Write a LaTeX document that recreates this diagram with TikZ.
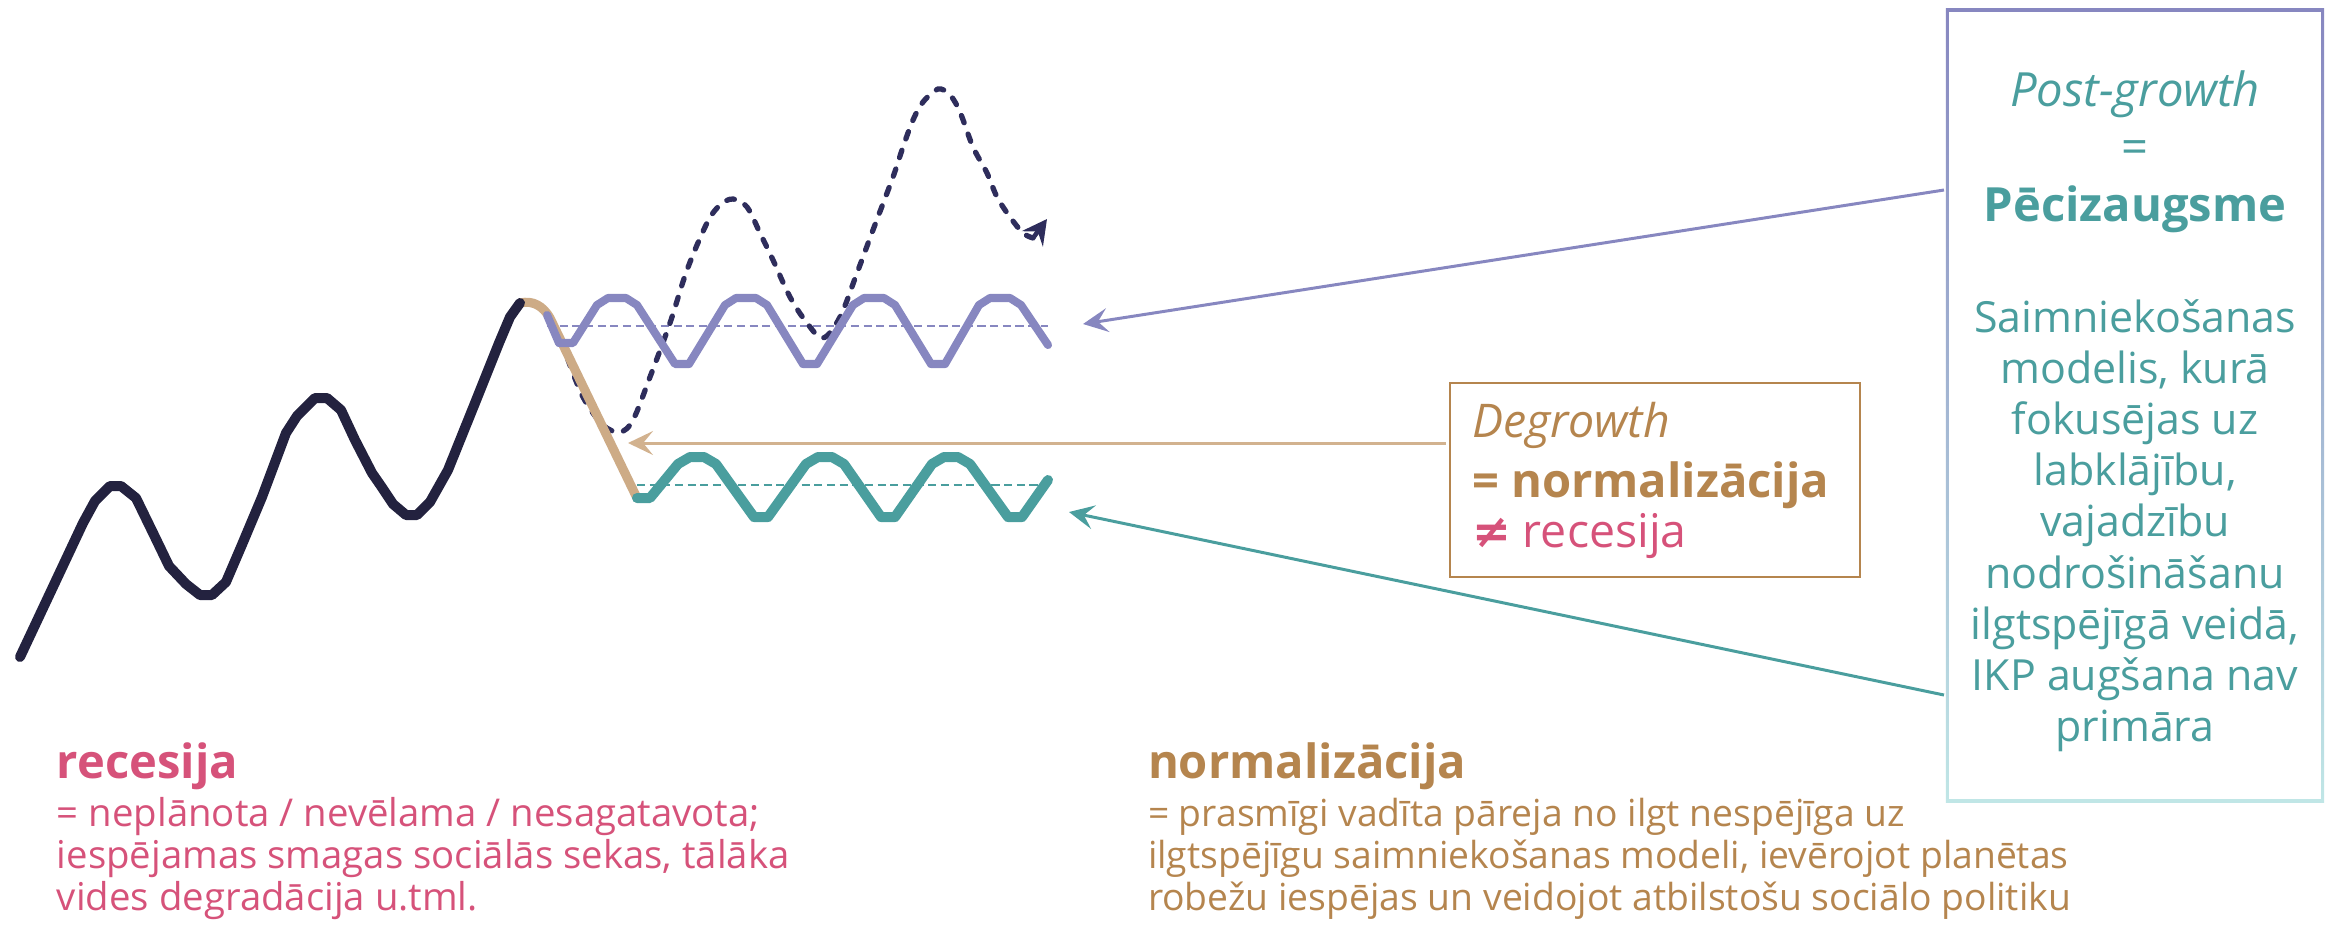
\documentclass[tikz,border=0pt]{standalone}
\usepackage{fontspec}
\setmainfont{Open Sans}
\newfontfamily\symfont{DejaVu Sans}
\usetikzlibrary{arrows.meta}
\definecolor{navyc}{HTML}{23223F}
\definecolor{dnavy}{HTML}{2E2D5C}
\definecolor{tanc}{HTML}{CDAB86}
\definecolor{tanarrow}{HTML}{D2B28F}
\definecolor{purpc}{HTML}{8787C0}
\definecolor{tealc}{HTML}{4A9E9E}
\definecolor{brownc}{HTML}{B5854E}
\definecolor{pinkc}{HTML}{D6527A}
\definecolor{ltealc}{HTML}{C0E6E6}
\begin{document}
\begin{tikzpicture}[x=0.01cm,y=-0.01cm,
  txt/.style={inner sep=0pt,outer sep=0pt},
  big/.style={font=\fontsize{13.4}{16}\selectfont},
  boxbody/.style={font=\fontsize{12.2}{14}\selectfont},
  body/.style={font=\fontsize{10.6}{12}\selectfont},
  lbody/.style={font=\fontsize{10.9}{12}\selectfont},
  thick wave/.style={line width=#1,line cap=round,line join=round},
  midline/.style={line width=0.7pt,dash pattern=on 2.3pt off 1.3pt},
  conn/.style={line width=0.85pt,-{Stealth[length=7.1pt,width=6.8pt,inset=2.8pt]}}]
\useasboundingbox (0,0) rectangle (2333,929);

% ---- boxes ----
\node[txt,minimum width=3.78cm,minimum height=7.93cm] (pg) at (2135,405.5) {};
\shade[top color=purpc,bottom color=ltealc] (pg.north west) rectangle (pg.south east);
\fill[white] ([shift={(3.5,3.5)}]pg.north west) rectangle ([shift={(-3.5,-3.5)}]pg.south east);
\node[txt,draw=brownc,line width=0.7pt,minimum width=4.10cm,minimum height=1.94cm] (dg) at (1655,480) {};

% ---- mid (dashed) lines ----
\coordinate (pm0) at (547,326); \coordinate (pm1) at (1048,326);
\coordinate (tm0) at (637,485); \coordinate (tm1) at (1048,485);
\draw[purpc,midline] (pm0) -- (pm1);
\draw[tealc,midline] (tm0) -- (tm1);

% ---- dashed navy trajectory ----
\coordinate (dstart) at (553,322);
\coordinate (dend) at (1033,238);
\coordinate (dtip) at (1047,219);
\draw[dnavy,line width=1.5pt,line cap=round,dash pattern=on 2.2pt off 3.4pt]
  plot[smooth,tension=0.55] coordinates {(dstart) (565,352) (583,397) (603,425) (620,432) (633,420) (650,377) (670,323) (687,270) (707,223) (720,205) (733,199) (747,207) (760,233) (773,260) (790,297) (807,323) (823,338) (840,317) (857,273) (873,230) (893,177) (903,147) (913,120) (923,102) (938,89) (950,95) (960,112) (973,147) (987,173) (997,197) (1010,217) (1023,233) (dend)};
\draw[dnavy,line width=1.3pt,-{Stealth[length=7pt,width=7.4pt,inset=2.6pt]}] (dend) -- (dtip);

% ---- tan descent ----
\coordinate (top) at (520,303);
\coordinate (low) at (637,498);
\draw[tanc,thick wave=2.6pt] (top) .. controls (533,300) and (543,306) .. (550,318) -- (low);

% ---- purple wave ----
\draw[purpc,thick wave=2.3pt] (547,315) -- (559,343) -- (573,343)
  -- (597,305) -- (608,298) -- (626,298) -- (637,305) -- (675,364) -- (689,364)
  -- (725,305) -- (736,298) -- (756,298) -- (767,305) -- (803,364) -- (817,364)
  -- (853,305) -- (864,298) -- (884,298) -- (895,305) -- (931,364) -- (945,364)
  -- (979,305) -- (990,298) -- (1010,298) -- (1021,305) -- (1048,345);

% ---- teal wave ----
\draw[tealc,thick wave=2.85pt] (low) -- (650,498)
  -- (678,464) -- (690,457) -- (704,457) -- (716,464) -- (754,517) -- (768,517)
  -- (806,464) -- (818,457) -- (832,457) -- (844,464) -- (881,517) -- (895,517)
  -- (932,464) -- (944,457) -- (958,457) -- (970,464) -- (1008,517) -- (1022,517)
  -- (1048,480);

% ---- black growth curve ----
\coordinate (gstart) at (20,657);
\draw[navyc,thick wave=2.85pt] (gstart) -- (83,523) -- (95,501) -- (110,486) -- (121,486)
  -- (136,498) -- (155,537) -- (169,566) -- (186,584) -- (200,595) -- (212,595) -- (226,582)
  -- (241,547) -- (262,497) -- (286,433) -- (297,416) -- (315,398) -- (327,398) -- (341,410)
  -- (355,440) -- (372,473) -- (381,486) -- (393,504) -- (406,515) -- (417,515) -- (430,502)
  -- (448,470) -- (475,403) -- (499,343) -- (510,317) -- (top);

% ---- connectors ----
\coordinate (pgA) at (1944,190);
\coordinate (pgB) at (1944,695);
\coordinate (dgA) at (1446,443);
\coordinate (ptip) at (1083,324);
\coordinate (ttip) at (1069,512);
\coordinate (gtip) at (628,443);
\draw[conn,purpc] (pgA) -- (ptip);
\draw[conn,tealc] (pgB) -- (ttip);
\draw[conn,tanarrow] (dgA) -- (gtip);

% ---- post-growth box text ----
\node[txt,anchor=base,text=tealc,font=\fontsize{13.4}{16}\selectfont\itshape] (pg1) at (2135,106) {Post-growth};
\node[txt,big,anchor=base,text=tealc] (pg2) at (2135,163) {=};
\node[txt,anchor=base,text=tealc,font=\fontsize{13.4}{16}\selectfont\bfseries] (pg3) at (2135,221) {Pēcizaugsme};
\foreach \t [count=\i from 0] in {Saimniekošanas,{modelis, kurā},{fokusējas uz},{labklājību,},vajadzību,nodrošināšanu,{ilgtspējīgā veidā,},{IKP augšana nav},primāra}
  \node[txt,boxbody,anchor=base,text=tealc] (pgl\i) at ({2135},{332+51.2*\i}) {\t};

% ---- degrowth box text ----
\node[txt,anchor=base west,text=brownc,font=\fontsize{13.2}{16}\selectfont\itshape] (dg1) at (1472,437) {Degrowth};
\node[txt,anchor=base west,text=brownc,font=\fontsize{13.4}{16}\selectfont\bfseries] (dg2) at (1472,497) {= normalizācija};
\node[txt,anchor=base west,text=pinkc,font=\fontsize{13.2}{16}\selectfont] (dg3) at (1472,547) {{\symfont\bfseries ≠} recesija};

% ---- bottom texts ----
\node[txt,anchor=base west,text=pinkc,font=\fontsize{13.4}{16}\selectfont\bfseries] (rh) at (57,778) {recesija};
\node[txt,lbody,anchor=base west,text=pinkc] (r1) at (57,826) {= neplānota / nevēlama / nesagatavota;};
\node[txt,lbody,anchor=base west,text=pinkc] (r2) at (57,868) {iespējamas smagas sociālās sekas, tālāka};
\node[txt,lbody,anchor=base west,text=pinkc] (r3) at (57,910) {vides degradācija u.tml.};

\node[txt,anchor=base west,text=brownc,font=\fontsize{13.4}{16}\selectfont\bfseries] (nh) at (1148,778) {normalizācija};
\node[txt,body,anchor=base west,text=brownc] (n1) at (1148,826) {= prasmīgi vadīta pāreja no ilgt nespējīga uz};
\node[txt,body,anchor=base west,text=brownc] (n2) at (1148,868) {ilgtspējīgu saimniekošanas modeli, ievērojot planētas};
\node[txt,body,anchor=base west,text=brownc] (n3) at (1148,910) {robežu iespējas un veidojot atbilstošu sociālo politiku};
\end{tikzpicture}
\end{document}
